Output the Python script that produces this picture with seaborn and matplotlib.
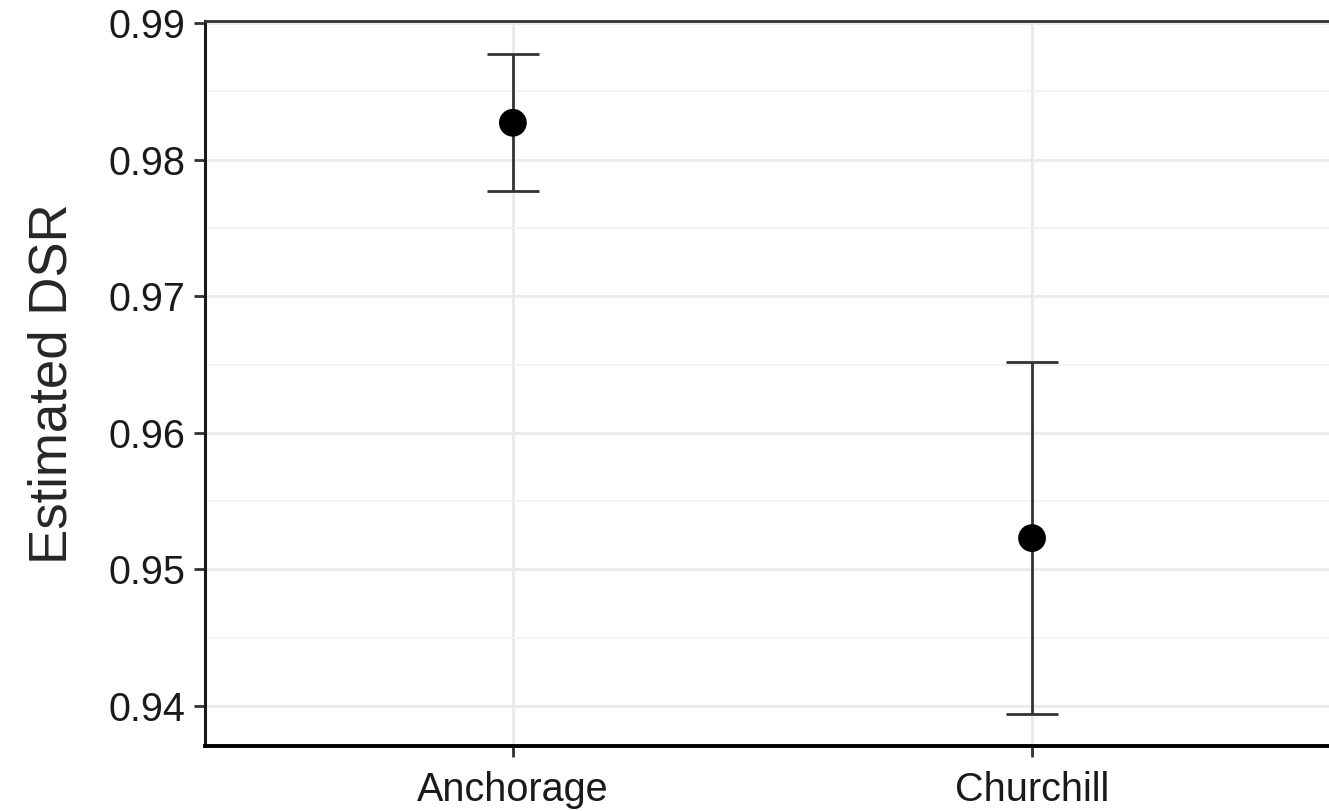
import numpy as np
import pandas as pd
import seaborn as sns
import matplotlib.pyplot as plt
from matplotlib.ticker import MultipleLocator

# estimated daily survival rate per site, with interval bounds
sites = ['Anchorage', 'Churchill']
dsr = [0.9827, 0.9523]
lower = [0.9777, 0.9394]
upper = [0.9877, 0.9652]

df = pd.DataFrame({'site': sites, 'dsr': dsr, 'lower': lower, 'upper': upper})

sns.set_theme(style='white')
plt.rcParams['font.family'] = ['Liberation Sans', 'DejaVu Sans']

fig = plt.figure(figsize=(13.29, 8.11), dpi=100)
ax = fig.add_axes([205 / 1329, 65 / 811, 1 - 205 / 1329, (746 - 21) / 811])

xpos = np.arange(len(df))
ax.errorbar(xpos, df['dsr'],
            yerr=[df['dsr'] - df['lower'], df['upper'] - df['dsr']],
            fmt='none', ecolor='#333333', elinewidth=2.0, capsize=19, capthick=2.0, zorder=2)
sns.scatterplot(data=df, x='site', y='dsr', color='black', s=400, edgecolor='none',
                ax=ax, zorder=3, legend=False)

ax.set_xlim(-0.593, 1.572)
ax.set_ylim(0.93708, 0.99015)
ax.yaxis.set_major_locator(MultipleLocator(0.01))
ax.yaxis.set_minor_locator(MultipleLocator(0.005))
ax.yaxis.set_major_formatter(plt.FuncFormatter(lambda v, p: f'{v:.2f}'))

ax.grid(True, which='major', color='#ebebeb', linewidth=2.2)
ax.grid(True, which='minor', axis='y', color='#f2f2f2', linewidth=1.2)
ax.set_axisbelow(True)

ax.set_xlabel('')
ax.set_ylabel('Estimated DSR', fontsize=38, labelpad=22)
ax.tick_params(axis='both', which='major', labelsize=28.5, length=8, width=2,
               color='#333333', labelcolor='#1a1a1a', pad=6)
ax.tick_params(axis='x', which='major', pad=10)
ax.tick_params(axis='both', which='minor', length=0)
ax.tick_params(axis='x', left=False, bottom=True)
ax.tick_params(axis='y', left=True)

for side in ['left', 'bottom', 'top']:
    ax.spines[side].set_visible(True)
ax.spines['left'].set_color('#1a1a1a')
ax.spines['left'].set_linewidth(2.2)
ax.spines['bottom'].set_color('black')
ax.spines['bottom'].set_linewidth(2.8)
ax.spines['top'].set_color('#333333')
ax.spines['top'].set_linewidth(2.0)
ax.spines['right'].set_visible(False)

fig.savefig('out.png', dpi=100)
